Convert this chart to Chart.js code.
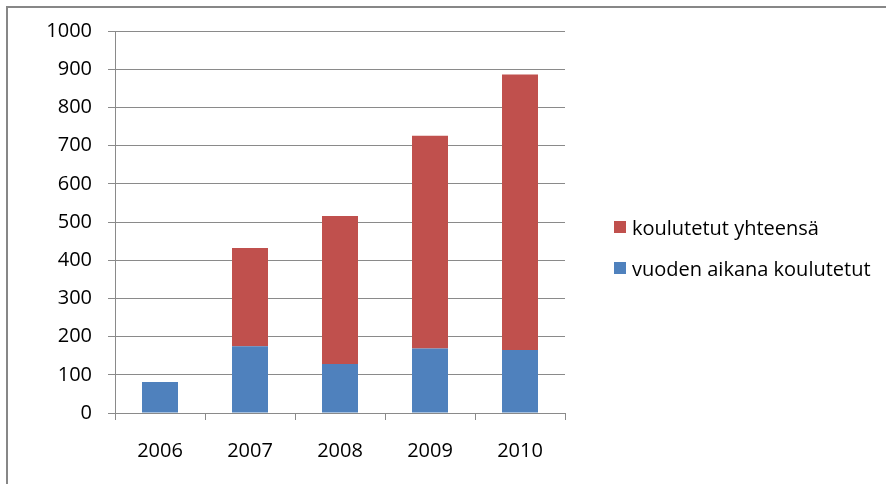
<!DOCTYPE html>
<html>
<head>
<meta charset="utf-8">
<script src="https://cdn.jsdelivr.net/npm/chart.js@4.4.1/dist/chart.umd.min.js"></script>
<style>
  html, body { margin: 0; padding: 0; background: #fff; }
  .wrap { position: relative; width: 886px; height: 484px; overflow: hidden; }
  .frame { position: absolute; left: 6px; top: 6px; width: 900px; height: 500px;
    border-left: 2px solid #878787; border-top: 2px solid #878787; }
  canvas { position: absolute; left: 0; top: 0; }
  .legend { position: absolute; left: 614px; top: 216px; font-family: "Open Sans", sans-serif; font-size: 20px; color: #000; }
  .legend .row { display: flex; align-items: center; height: 22px; margin-bottom: 19px; white-space: nowrap; }
  .legend .box { width: 12px; height: 12px; margin-right: 6px; }
</style>
</head>
<body>
<div class="wrap">
  <div class="frame"></div>
  <canvas id="myChart" width="886" height="484"></canvas>
  <div class="legend"></div>
</div>
<script>
const YEARS = ["2006", "2007", "2008", "2009", "2010"];
// vuoden aikana koulutetut (alaosa)
const VUODEN_AIKANA = [81, 175, 128, 169, 165];
// koulutetut yhteensä (pinottu päälle)
const YHTEENSA = [null, 257, 388, 557, 721];
const Y_TICKS = [0, 100, 200, 300, 400, 500, 600, 700, 800, 900, 1000];

const SERIES = [
  { label: "vuoden aikana koulutetut", data: VUODEN_AIKANA, color: "#4F81BD" },
  { label: "koulutetut yhteensä", data: YHTEENSA, color: "#C0504D" },
];

const GRID = "#8a8a8a";
const FONT = { family: "'Open Sans', sans-serif", size: 20 };

const ctx = document.getElementById("myChart").getContext("2d");

const myChart = new Chart(ctx, {
  type: "bar",
  data: {
    labels: YEARS,
    datasets: SERIES.map((s) => ({
      label: s.label,
      data: s.data,
      backgroundColor: s.color,
      borderWidth: 0,
      categoryPercentage: 1,
      barPercentage: 0.4,
    })),
  },
  options: {
    responsive: false,
    animation: false,
    layout: { padding: { left: 0, right: 321, top: 31, bottom: 0 } },
    plugins: {
      legend: { display: false },
      tooltip: { enabled: false },
    },
    scales: {
      x: {
        stacked: true,
        grid: {
          offset: true,
          drawOnChartArea: false,
          drawTicks: true,
          tickLength: 7,
          color: GRID,
        },
        border: { color: GRID, width: 1 },
        ticks: { color: "#000", font: FONT, padding: 19, maxRotation: 0 },
        afterFit: (scale) => { scale.height = 71; },
      },
      y: {
        stacked: true,
        min: 0,
        max: 1000,
        afterBuildTicks: (scale) => { scale.ticks = Y_TICKS.map((v) => ({ value: v })); },
        grid: { color: GRID, tickLength: 7 },
        border: { color: GRID, width: 1 },
        ticks: { color: "#000", font: FONT, padding: 16, callback: (v) => String(v) },
        afterFit: (scale) => { scale.width = 115; },
      },
    },
  },
});

// legenda oikealle, käänteisessä järjestyksessä kuten Excelissä
const $legend = document.querySelector(".legend");
$legend.innerHTML = SERIES.slice().reverse().map((s) => `
  <div class="row"><div class="box" style="background-color:${s.color};"></div><span>${s.label}</span></div>
`).join("");
</script>
</body>
</html>
